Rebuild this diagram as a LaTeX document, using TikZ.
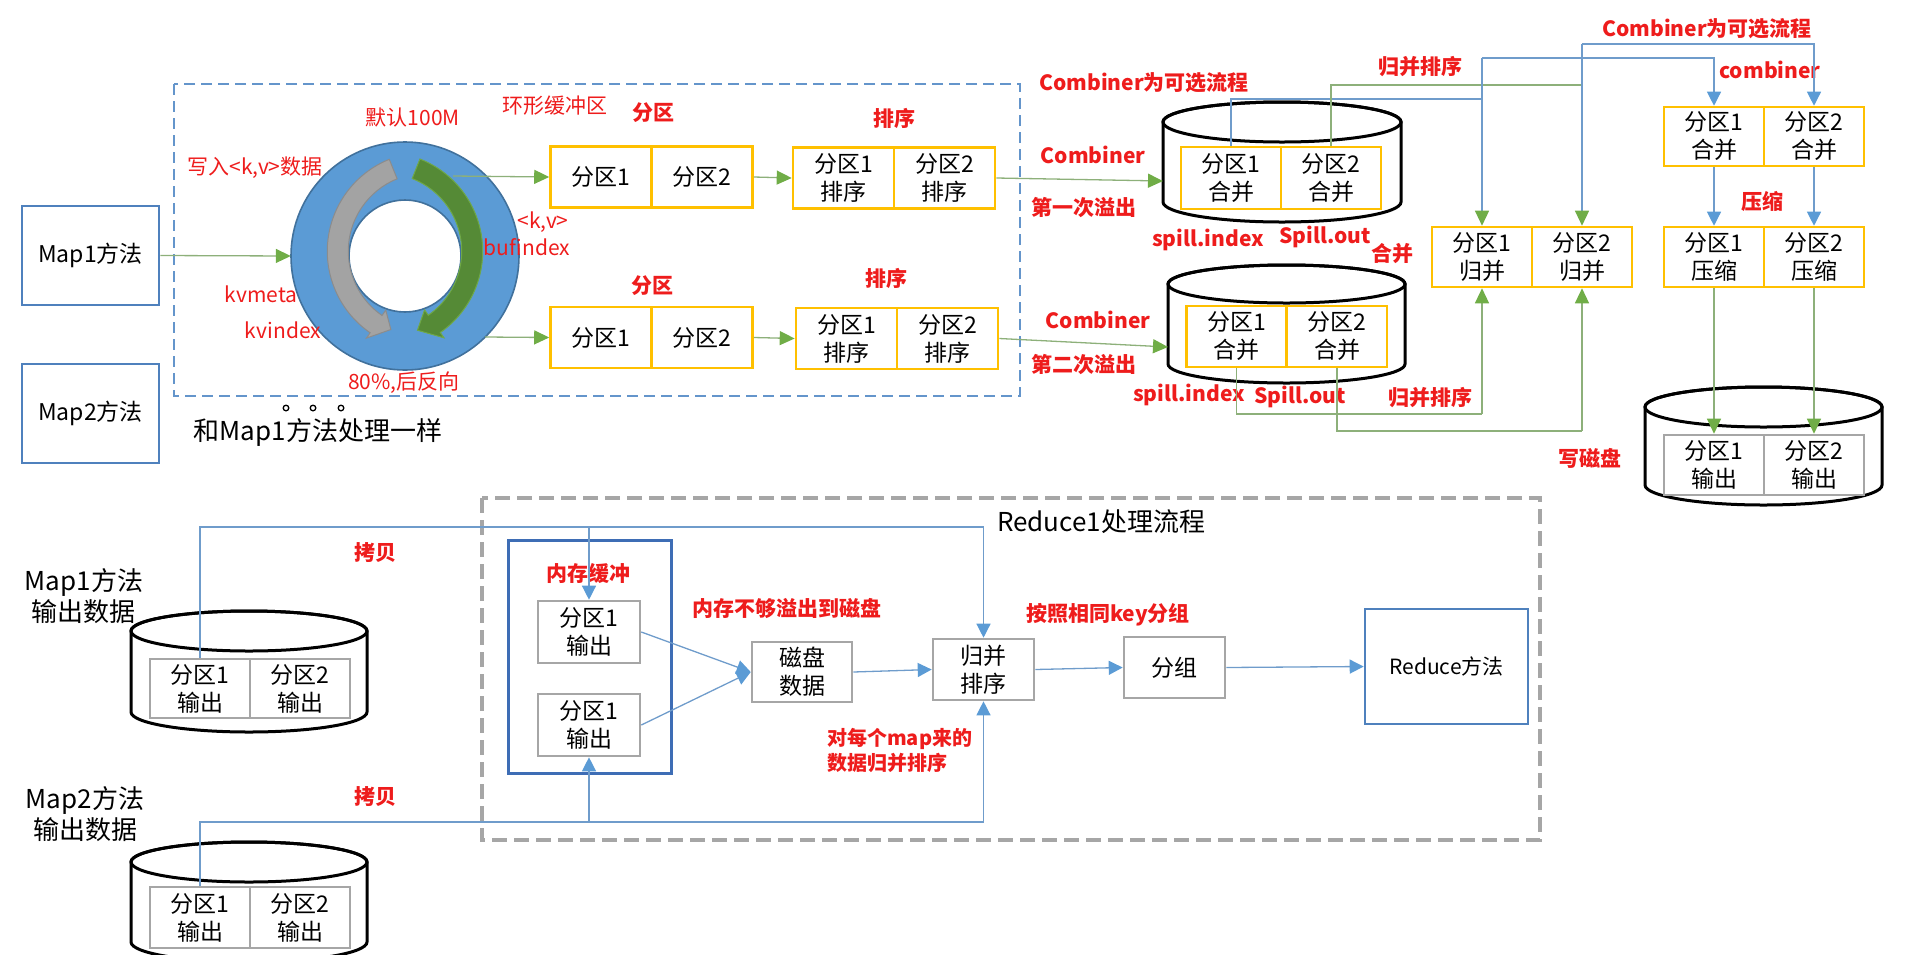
\documentclass[tikz,border=0pt]{standalone}
\usepackage{fontspec}
\setmainfont{Noto Sans CJK SC}
\usetikzlibrary{arrows.meta}
\definecolor{mapblue}{HTML}{4F81BD}
\definecolor{memblue}{HTML}{3E6DB5}
\definecolor{gold}{HTML}{FFC000}
\definecolor{boxgray}{HTML}{A6A6A6}
\definecolor{dashblue}{HTML}{6495CB}
\definecolor{dashgray}{HTML}{A6A6A6}
\definecolor{redtxt}{HTML}{EE1C1C}
\definecolor{ringblue}{HTML}{5B9BD5}
\definecolor{ringedge}{HTML}{41719C}
\definecolor{arrgray}{HTML}{A3A3A3}
\definecolor{arrgrayd}{HTML}{8C8C8C}
\definecolor{arrgreen}{HTML}{558A36}
\definecolor{arrgreenl}{HTML}{6FA847}
\definecolor{lgreen}{HTML}{8DB07A}
\definecolor{hgreen}{HTML}{70AD47}
\definecolor{lblue}{HTML}{6F9CCB}
\definecolor{hblue}{HTML}{5B9BD5}
\newcommand\mycyl[5]{%
  \filldraw[fill=white, draw=black, line width=3pt]
    (#1-#4,#2) -- (#1-#4,#3) arc[start angle=180, end angle=0, x radius=#4, y radius=#5]
    -- (#1+#4,#2) arc[start angle=0, end angle=-180, x radius=#4, y radius=#5] -- cycle;
  \draw[line width=3pt] (#1,#2) ellipse[x radius=#4, y radius=#5];}
\begin{document}
\begin{tikzpicture}[x=1pt,y=-1pt,
  txt/.style={font=\fontsize{23pt}{28pt}\selectfont, text=black, align=center},
  cellO/.style={draw=gold, line width=2.6pt, minimum width=101pt, minimum height=61pt, inner sep=0pt, txt},
  cellG/.style={cellO, draw=boxgray},
  mapbox/.style={draw=mapblue, line width=2.6pt, inner sep=0pt, txt},
  lblB/.style={text=redtxt, font=\fontsize{21pt}{25pt}\selectfont\bfseries, inner sep=0pt},
  lblN/.style={text=redtxt, font=\fontsize{21pt}{25pt}\selectfont, inner sep=0pt},
  bigtxt/.style={text=black, font=\fontsize{26pt}{31pt}\selectfont, inner sep=0pt, align=center},
  gline/.style={draw=lgreen, line width=1.3pt},
  bline/.style={draw=lblue, line width=1.3pt},
  gtip/.style={-{Triangle[length=15pt, width=14pt, color=hgreen, fill=hgreen]}},
  btip/.style={-{Triangle[length=14pt, width=14pt, color=hblue, fill=hblue]}},
  garr/.style={gline, gtip},
  barr/.style={bline, btip},
]
\useasboundingbox (0,0) rectangle (1909,954);
\clip (0,0) rectangle (1909,954);

% ---------------- top: map side ----------------
\draw[dashblue, line width=2.6pt, dash pattern=on 11pt off 6pt] (174,84) rectangle (1020,396);

\node[mapbox, minimum width=137pt, minimum height=99pt] (map1) at (90.5,255.5) {Map1方法};
\node[mapbox, minimum width=137pt, minimum height=99pt] (map2) at (90.5,413.5) {Map2方法};

% ring buffer
\node[circle, minimum size=228pt, inner sep=0pt] (ring) at (405,256) {};
\filldraw[fill=ringblue, draw=ringedge, line width=1.6pt] (ring.center) circle[radius=114];
\filldraw[fill=white, draw=ringedge, line width=1.6pt] (ring.center) circle[radius=56];
\begin{scope}[shift={(426.4,251.2)}]
  \filldraw[fill=arrgray, draw=arrgrayd, line width=1pt]
    (248:99.1) arc[start angle=248, end angle=124.6, radius=99.1] -- (124.6:105.6) -- (114.4:86)
    -- (124.6:71.6) -- (124.6:78.1) arc[start angle=124.6, end angle=248, radius=78.1] -- cycle;
\end{scope}
\begin{scope}[shift={(383.6,251.2)}]
  \filldraw[fill=arrgreen, draw=arrgreenl, line width=1pt]
    (291.5:99.1) arc[start angle=291.5, end angle=415.1, radius=99.1] -- (55.1:105.6) -- (66.8:86)
    -- (55.1:71.6) -- (55.1:78.1) arc[start angle=415.1, end angle=291.5, radius=78.1] -- cycle;
\end{scope}

\node[lblN] (t-huan) at (555,106) {环形缓冲区};
\node[lblN] (t-mo) at (413,118) {默认100M};
\node[lblN] (t-xie) at (255,168) {写入<k,v>数据};
\node[lblN] (t-kvm) at (261,294) {kvmeta};
\node[lblN] (t-kvi) at (283,330) {kvindex};
\node[lblN] (t-80) at (404,383) {80\%,后反向};
\node[lblN] (t-kv) at (543,222) {<k,v>};
\node[lblN] (t-buf) at (527,247) {bufindex};

\node[bigtxt] (t-same) at (318,432) {和Map1方法处理一样};
\foreach \dx in {286,313,341} {
  \draw[line width=1.3pt] (\dx,408) circle[radius=2.8];
}

% partitions and sorts
\node[cellO] (p1a) at (601,177) {分区1};
\node[cellO] (p1b) at (702,177) {分区2};
\node[cellO] (s1a) at (843.5,178) {分区1\\排序};
\node[cellO] (s1b) at (944.5,178) {分区2\\排序};
\node[cellO] (p2a) at (601,337.5) {分区1};
\node[cellO] (p2b) at (702,337.5) {分区2};
\node[cellO] (s2a) at (846.5,338.5) {分区1\\排序};
\node[cellO] (s2b) at (947.5,338.5) {分区2\\排序};

\node[lblB] (l-fq1) at (653,113) {分区};
\node[lblB] (l-px1) at (894,118) {排序};
\node[lblB] (l-fq2) at (652,286) {分区};
\node[lblB] (l-px2) at (886,278) {排序};

\coordinate (r1) at (453,176);
\coordinate (r2) at (485,337);
\draw[garr] (map1.east) -- (ring.west);
\draw[garr] (r1) -- (p1a.west);
\draw[garr] (r2) -- (p2a.west);
\draw[garr] (p1b.east) -- (s1a.west);
\draw[garr] (p2b.east) -- (s2a.west);

% ---------------- spill cylinders ----------------
\mycyl{1282}{122}{202}{119}{20}
\mycyl{1286.5}{284}{364}{118.5}{19}
\coordinate (cyl1w) at (1163,181);
\coordinate (cyl2w) at (1168,347);

\node[cellO, minimum width=100pt, minimum height=62pt] (c1a) at (1231,178) {分区1\\合并};
\node[cellO, minimum width=100pt, minimum height=62pt] (c1b) at (1331,178) {分区2\\合并};
\node[cellO, minimum width=100pt, minimum height=61pt] (c2a) at (1236.5,336.5) {分区1\\合并};
\node[cellO, minimum width=100pt, minimum height=61pt] (c2b) at (1337,336.5) {分区2\\合并};

\draw[garr] (s1b.east) -- (cyl1w);
\draw[garr] (s2b.east) -- (cyl2w);

\node[lblB] (l-opt1) at (1144,83) {Combiner为可选流程};
\node[lblB] (l-cb1) at (1093,155) {Combiner};
\node[lblB] (l-sp1) at (1084,208) {第一次溢出};
\node[lblB] (l-cb2) at (1098,320) {Combiner};
\node[lblB] (l-sp2) at (1084,365) {第二次溢出};
\node[lblB] (l-si1) at (1208,240) {spill.index};
\node[lblB] (l-so1) at (1325,237) {Spill.out};
\node[lblB] (l-hb) at (1392,254) {合并};
\node[lblB] (l-si2) at (1189,395) {spill.index};
\node[lblB] (l-so2) at (1300,397) {Spill.out};
\node[lblB] (l-gb2) at (1430,398) {归并排序};
\node[lblB] (l-gb1) at (1420,67) {归并排序};

% merge
\node[cellO, minimum width=100pt, minimum height=60pt] (ma) at (1482,257) {分区1\\归并};
\node[cellO, minimum width=100pt, minimum height=60pt] (mb) at (1582,257) {分区2\\归并};

% combiner / compress / output
\node[cellO, minimum width=100pt, minimum height=59pt] (ha) at (1714,136.5) {分区1\\合并};
\node[cellO, minimum width=100pt, minimum height=59pt] (hb) at (1814,136.5) {分区2\\合并};
\node[cellO, minimum width=100pt, minimum height=60pt] (za) at (1714,257) {分区1\\压缩};
\node[cellO, minimum width=100pt, minimum height=60pt] (zb) at (1814,257) {分区2\\压缩};

\mycyl{1763.5}{407}{485}{118.5}{20}
\node[cellG, minimum width=100pt, minimum height=60pt] (oa) at (1714,465) {分区1\\输出};
\node[cellG, minimum width=100pt, minimum height=60pt] (ob) at (1814,465) {分区2\\输出};

\node[lblB] (l-opt2) at (1707,29) {Combiner为可选流程};
\node[lblB] (l-cmb) at (1770,70) {combiner};
\node[lblB] (l-ys) at (1762,201) {压缩};
\node[lblB] (l-xcp) at (1590,458) {写磁盘};

\coordinate (j1) at (1482,99);
\coordinate (j2) at (1582,85);
\coordinate (j3) at (1482,58);
\coordinate (j4) at (1582,44);
\coordinate (j5) at (1482,414);
\coordinate (j6) at (1582,431);
\draw[bline] (c1a.north) |- (j1);
\draw[gline] (c1b.north) |- (j2);
\draw[bline, gtip] (j3) -- (ma.north);
\draw[bline, gtip] (j4) -- (mb.north);
\draw[barr] (j3) -| (ha.north);
\draw[barr] (j4) -| (hb.north);
\draw[gline] (c2a.south) |- (j5);
\draw[garr] (j5) -- (ma.south);
\draw[gline] (c2b.south) |- (j6);
\draw[garr] (j6) -- (mb.south);
\draw[barr] (ha.south) -- (za.north);
\draw[barr] (hb.south) -- (zb.north);
\draw[garr] (za.south) -- (oa.north);
\draw[garr] (zb.south) -- (ob.north);

% ---------------- bottom: reduce side ----------------
\node[bigtxt] (m1out) at (84,596) {Map1方法\\输出数据};
\node[bigtxt] (m2out) at (85,814) {Map2方法\\输出数据};

\mycyl{249}{631}{712}{118}{20}
\mycyl{249}{862}{942}{118}{20}
\node[cellG, minimum width=100pt, minimum height=59pt] (ra) at (200,688.5) {分区1\\输出};
\node[cellG, minimum width=100pt, minimum height=59pt] (rb) at (300,688.5) {分区2\\输出};
\node[cellG, minimum width=100pt, minimum height=61pt] (sa) at (200,917.5) {分区1\\输出};
\node[cellG, minimum width=100pt, minimum height=61pt] (sb) at (300,917.5) {分区2\\输出};

\draw[dashgray, line width=4.5pt, dash pattern=on 15pt off 7pt] (482,498) rectangle (1540,840);
\node[bigtxt] (t-red) at (1101,522) {Reduce1处理流程};

\node[draw=memblue, line width=3pt, minimum width=163pt, minimum height=233pt, inner sep=0pt] (mem) at (589.5,656.5) {};
\node[cellG, minimum width=102pt, minimum height=62pt] (mu) at (589,632) {分区1\\输出};
\node[cellG, minimum width=102pt, minimum height=62pt] (ml) at (589,725) {分区1\\输出};
\node[cellG, minimum width=100pt, minimum height=60pt] (disk) at (802,672) {磁盘\\数据};
\node[cellG] (gb) at (983.5,669.5) {归并\\排序};
\node[cellG] (grp) at (1174.5,667.5) {分组};
\node[mapbox, minimum width=163pt, minimum height=115pt, font=\fontsize{21pt}{25pt}\selectfont] (rdc) at (1446.5,666.5) {Reduce方法};

\node[lblB] (l-kb1) at (375,553) {拷贝};
\node[lblB] (l-kb2) at (375,797) {拷贝};
\node[lblB] (l-nc) at (588,573) {内存缓冲};
\node[lblB] (l-yc) at (787,608) {内存不够溢出到磁盘};
\node[lblB] (l-key) at (1108,615) {按照相同key分组};
\node[lblB, anchor=west, align=left, font=\fontsize{20pt}{25pt}\selectfont\bfseries] (l-each) at (827,750) {对每个map来的\\数据归并排序};

\coordinate (cp1) at (589,527);
\coordinate (cp2) at (983.5,527);
\coordinate (cp3) at (589,822);
\coordinate (cp4) at (983.5,822);
\draw[bline] (ra.north) |- (cp1);
\draw[barr] (cp1) -- (mu.north);
\draw[barr] (cp1) -- (cp2) -- (gb.north);
\draw[bline] (sa.north) |- (cp3);
\draw[barr] (cp3) -- (ml.south);
\draw[barr] (cp3) -- (cp4) -- (gb.south);
\draw[barr] (mu.east) -- (disk.west);
\draw[barr] (ml.east) -- (disk.west);
\draw[barr] (disk.east) -- (gb.west);
\draw[barr] (gb.east) -- (grp.west);
\draw[barr] (grp.east) -- (rdc.west);
\end{tikzpicture}
\end{document}
